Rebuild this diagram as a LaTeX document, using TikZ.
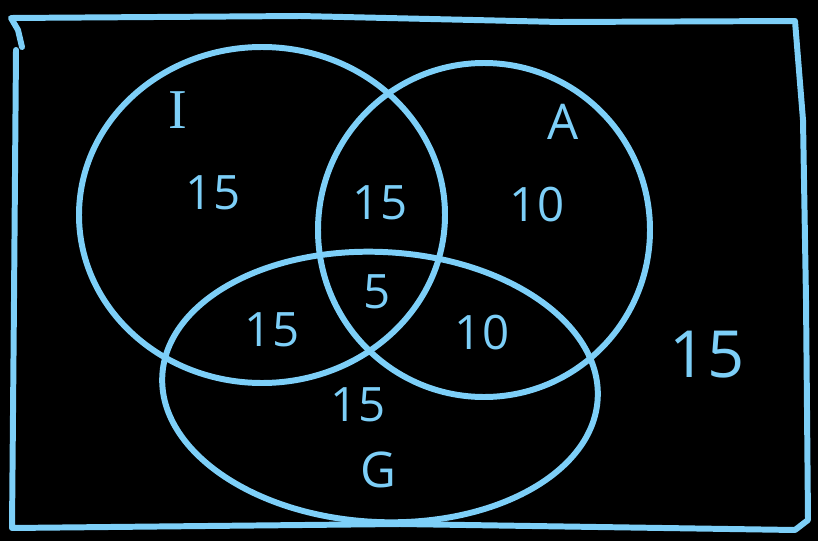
\documentclass[tikz,border=0pt]{standalone}
\usepackage{fontspec}
\setmainfont{Open Sans}
\newfontfamily\serifI{Liberation Serif}
\usepackage{tikz}
\definecolor{vnBlue}{HTML}{7DCFF8}
\definecolor{vnBack}{HTML}{000000}
\tikzset{
  vn-line/.style={draw=vnBlue, line width=3.4pt, line cap=round, line join=round},
  vn-num/.style={text=vnBlue, font=\fontsize{27}{30}\selectfont, inner sep=0pt},
  vn-big/.style={vn-num, font=\fontsize{37}{40}\selectfont},
  vn-set/.style={vn-num, font=\fontsize{28}{31}\selectfont}
}

\begin{document}
\begin{tikzpicture}[x=0.02cm, y=-0.02cm]
% Background
\fill[vnBack] (0,0) rectangle (818,541);
\useasboundingbox (0,0) rectangle (818,541);

% Universe
\draw[vn-line] (22,47) -- (18,30) -- (11,18) -- (300,16) -- (560,22) -- (795,21)
  -- (803,120) -- (806,300) -- (808,520) -- (795,530) -- (400,524) -- (12,528) -- (14,300) -- (16,50);

% Sets
\draw[vn-line] (262,215) ellipse [x radius=183, y radius=168];
\draw[vn-line] (484,230) ellipse [x radius=166, y radius=167];
\draw[vn-line, rotate around={-3:(380,387)}] (380,387) ellipse [x radius=218, y radius=135];

% Set names
\node[vn-set, font=\serifI\fontsize{32}{34}\selectfont] (nameI) at (178,110) {I};
\node[vn-set] (nameA) at (563,122) {A};
\node[vn-set] (nameG) at (378,470) {G};

% Counts
\node[vn-num] (onlyI) at (213,193) {15};
\node[vn-num] (IA) at (380,203) {15};
\node[vn-num] (onlyA) at (537,205) {10};
\node[vn-num] (IAG) at (377,292) {5};
\node[vn-num] (IG) at (272,330) {15};
\node[vn-num] (AG) at (482,333) {10};
\node[vn-num] (onlyG) at (358,405) {15};
\node[vn-big] (none) at (707,355) {15};
\end{tikzpicture}
\end{document}
